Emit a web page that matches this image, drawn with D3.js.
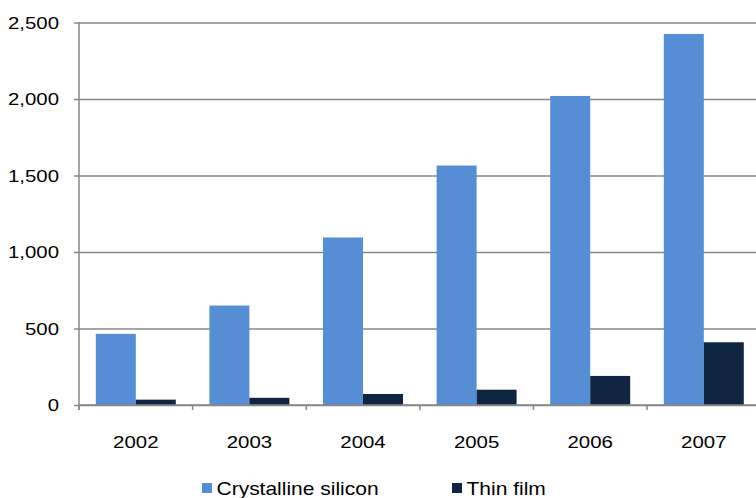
<!DOCTYPE html>
<html>
<head>
<meta charset="utf-8">
<script src="https://cdn.jsdelivr.net/npm/d3@7"></script>
<style>
  html, body { margin: 0; padding: 0; background: #fff; }
  svg { display: block; }
  text { font-family: "Liberation Sans", Arial, sans-serif; fill: #000; }
</style>
</head>
<body>
<svg id="chart" width="756" height="498"></svg>
<script>
// Annual production by technology (MW)
const years = ["2002", "2003", "2004", "2005", "2006", "2007"];
const crystalline = [465, 650, 1095, 1565, 2020, 2425];
const thinFilm = [35, 47, 72, 100, 190, 410];
const seriesNames = ["Crystalline silicon", "Thin film"];
const seriesColors = ["#558ed5", "#10253f"];
const yTicks = [0, 500, 1000, 1500, 2000, 2500];

const svg = d3.select("#chart");
const plot = { left: 79, right: 760.6, top: 22.5, bottom: 405 };
const stretch = 1.2; // horizontal widening of all labels

const x = d3.scaleBand()
  .domain(years)
  .range([plot.left, plot.right])
  .paddingInner(0.296)
  .paddingOuter(0.148);

const xSub = d3.scaleBand()
  .domain(seriesNames)
  .range([0, x.bandwidth()]);

const y = d3.scaleLinear()
  .domain([0, 2500])
  .range([plot.bottom, plot.top]);

const fmt = d3.format(",");
const grid = "#878787";

// Horizontal gridlines with short ticks to the left
const yAxis = d3.axisLeft(y).tickValues(yTicks).tickSize(-(756 - plot.left)).tickFormat("");
const gy = svg.append("g").attr("transform", `translate(${plot.left},0)`).call(yAxis);
gy.select(".domain").remove();
gy.selectAll(".tick line").attr("stroke", grid).attr("stroke-width", 1.5)
  .attr("x1", -5).attr("x2", 756 - plot.left);

// Y tick labels
svg.append("g").selectAll("text")
  .data(yTicks)
  .join("text")
  .attr("transform", d => `translate(59,${y(d) + 6}) scale(${stretch},1)`)
  .attr("text-anchor", "end")
  .attr("font-size", 17)
  .text(d => fmt(d));

// Vertical axis line
svg.append("line")
  .attr("x1", plot.left).attr("x2", plot.left)
  .attr("y1", y(2500)).attr("y2", plot.bottom + 5)
  .attr("stroke", grid).attr("stroke-width", 1.5);

// Bars
const rows = years.map((yr, i) => ({ year: yr, values: [crystalline[i], thinFilm[i]] }));
const groups = svg.append("g").selectAll("g")
  .data(rows)
  .join("g")
  .attr("transform", d => `translate(${x(d.year)},0)`);

groups.selectAll("rect")
  .data(d => d.values.map((v, k) => ({ name: seriesNames[k], value: v, color: seriesColors[k] })))
  .join("rect")
  .attr("x", d => xSub(d.name))
  .attr("width", xSub.bandwidth())
  .attr("y", d => y(d.value))
  .attr("height", d => y(0) - y(d.value))
  .attr("fill", d => d.color);

// Category axis along the baseline
const xAxis = d3.axisBottom(x).tickSize(0).tickFormat("");
const gx = svg.append("g").attr("transform", `translate(0,${plot.bottom})`).call(xAxis);
gx.select(".domain").remove();
gx.selectAll(".tick").remove();
svg.append("line")
  .attr("x1", plot.left).attr("x2", 756)
  .attr("y1", plot.bottom).attr("y2", plot.bottom)
  .attr("stroke", grid).attr("stroke-width", 1.5);

// Category boundary ticks
const boundaries = years.map((yr, i) => plot.left + i * x.step());
svg.append("g").selectAll("line")
  .data(boundaries)
  .join("line")
  .attr("x1", d => d).attr("x2", d => d)
  .attr("y1", plot.bottom).attr("y2", plot.bottom + 5)
  .attr("stroke", grid).attr("stroke-width", 1.5);

// Year labels
svg.append("g").selectAll("text")
  .data(years)
  .join("text")
  .attr("transform", d => `translate(${x(d) + x.bandwidth() / 2},448) scale(${stretch},1)`)
  .attr("text-anchor", "middle")
  .attr("font-size", 17)
  .text(d => d);

// Legend
const legendItems = [
  { name: seriesNames[0], color: seriesColors[0], sx: 202, tx: 216.5 },
  { name: seriesNames[1], color: seriesColors[1], sx: 452, tx: 466.5 }
];
const lg = svg.append("g").selectAll("g").data(legendItems).join("g");
lg.append("rect")
  .attr("x", d => d.sx).attr("y", 483)
  .attr("width", 10).attr("height", 10)
  .attr("fill", d => d.color);
lg.append("text")
  .attr("transform", d => `translate(${d.tx},495) scale(${stretch},1)`)
  .attr("font-size", 17.5)
  .text(d => d.name);
</script>
</body>
</html>
